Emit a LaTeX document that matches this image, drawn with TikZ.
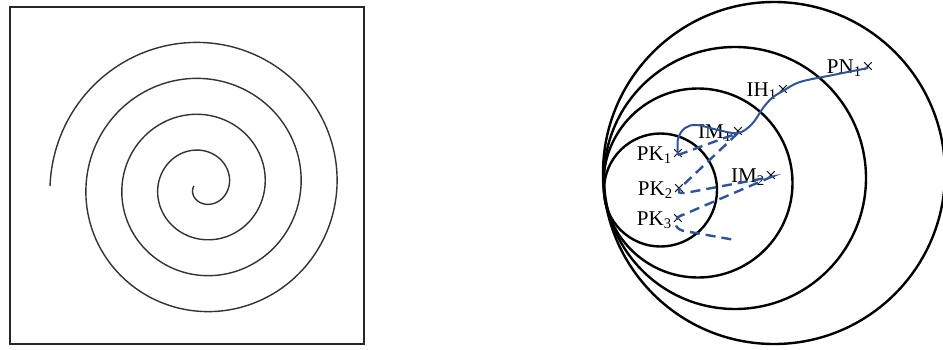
\documentclass[tikz,border=0pt]{standalone}
\usepackage{fontspec}
\setmainfont{Liberation Serif}
\usetikzlibrary{positioning}
\definecolor{pathblue}{RGB}{47,85,151}

\begin{document}
\begin{tikzpicture}[x=1pt,y=-1pt,
ring/.style={line width=2.4pt},
cross/.style={inner sep=0pt,font=\fontsize{21}{24}\selectfont},
lbl/.style={inner sep=0pt,anchor=base east,font=\fontsize{21}{24}\selectfont},
route/.style={pathblue,line width=2pt},
hop/.style={pathblue,line width=2.4pt,dash pattern=on 10pt off 6pt}]

\clip (0,0) rectangle (943,349);

%=================================================
% LEFT PANEL
%=================================================

% frame

\draw[line width=2.6pt,black!85]
(10,7) rectangle (364,344);

% spiral

\draw[line width=1.4pt,black!80]
plot[domain=180:1620,samples=400,smooth,variable=\t]
({202.5+(\t/10-9.5)*cos(\t)},{186-(\t/10-9.5)*sin(\t)});

%=================================================
% RIGHT PANEL
%=================================================

% nested circles

\draw[ring] (774,173) circle[radius=171pt];
\draw[ring] (735,178) circle[radius=131pt];
\draw[ring] (698,183) circle[radius=94.5pt];
\draw[ring] (660.5,190) circle[radius=56.5pt];

% marks and labels

\node[cross] (pk1) at (678,155) {×};
\node[lbl] (pk1l) at (pk1.base west) {PK\textsubscript{1}};

\node[cross] (pk2) at (679,190) {×};
\node[lbl] (pk2l) at (pk2.base west) {PK\textsubscript{2}};

\node[cross] (pk3) at (678,220) {×};
\node[lbl] (pk3l) at (pk3.base west) {PK\textsubscript{3}};

\node[cross] (im1) at (738,133) {×};
\node[lbl] (im1l) at (im1.base west) {IM\textsubscript{1}};

\node[cross] (im2) at (771,177) {×};
\node[lbl] (im2l) at (im2.base west) {IM\textsubscript{2}};

\node[cross] (ih1) at (783,91) {×};
\node[lbl] (ih1l) at (ih1.base west) {IH\textsubscript{1}};

\node[cross] (pn1) at (868,68) {×};
\node[lbl] (pn1l) at (pn1.base west) {PN\textsubscript{1}};

\coordinate (tail) at (735,240);

% solid route

\draw[route]
plot[smooth,tension=0.6] coordinates
{(pk1.center) (678,139) (685,128) (697,125) (718,130)
(im1.center) (752,124) (763,108) (772,98) (ih1.center)
(800,82) (833,75) (pn1.center)};

% dashed hops

\draw[hop]
(pk1.center) -- (im1.center) -- (680,188)
.. controls (678,193) .. (685,193)
-- (im2.center) -- (678,217)
.. controls (672,227) and (679,231) .. (690,232)
-- (tail);

\end{tikzpicture}
\end{document}
